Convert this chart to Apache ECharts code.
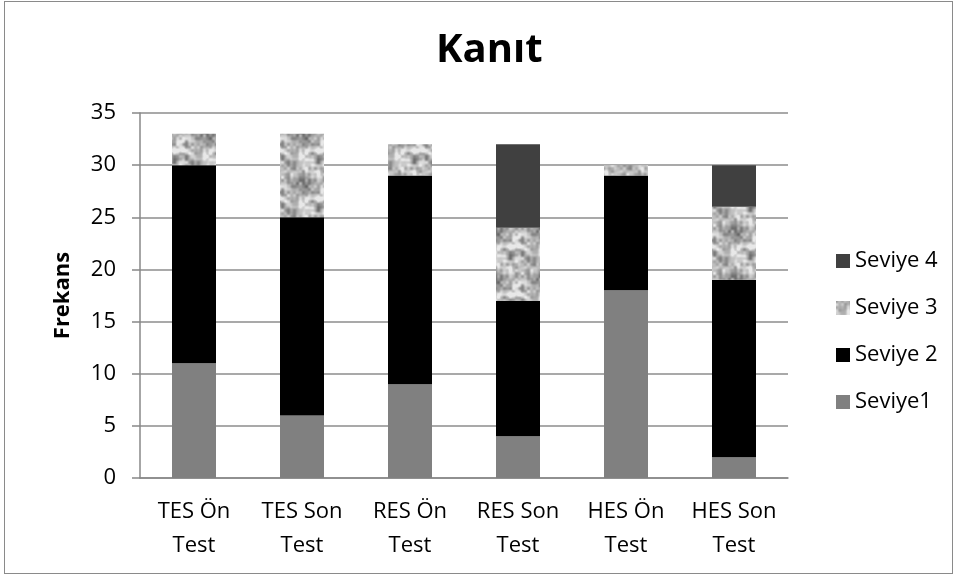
<!DOCTYPE html>
<html>
<head>
<meta charset="utf-8">
<script src="https://cdn.jsdelivr.net/npm/echarts@6/dist/echarts.min.js"></script>
<style>
  html, body { margin: 0; padding: 0; background: #fff; }
  #frame { position: absolute; left: 4px; top: 1px; width: 947px; height: 571px; border: 1.5px solid #8a8a8a; }
  #chart { position: absolute; left: 0; top: 0; width: 957px; height: 578px; }
</style>
</head>
<body>
<div id="frame"></div>
<div id="chart"></div>
<script>
const categories = ['TES Ön\nTest', 'TES Son\nTest', 'RES Ön\nTest', 'RES Son\nTest', 'HES Ön\nTest', 'HES Son\nTest']
const seviye1 = [11, 6, 9, 4, 18, 2]
const seviye2 = [19, 19, 20, 13, 11, 17]
const seviye3 = [3, 8, 3, 7, 1, 7]
const seviye4 = [0, 0, 0, 8, 0, 4]
const yTicks = { min: 0, max: 35, interval: 5 }

// mottled grey texture for "Seviye 3" (tileable value noise, style only)
function makeTexture() {
  const S = 48
  const c = document.createElement('canvas')
  c.width = S; c.height = S
  const ctx = c.getContext('2d')
  const img = ctx.createImageData(S, S)
  const hash = (i, j) => {
    const v = Math.sin(i * 127.1 + j * 311.7) * 43758.5453
    return v - Math.floor(v)
  }
  const noise = (x, y, n) => {
    const cell = S / n
    const gx = x / cell, gy = y / cell
    const i0 = Math.floor(gx), j0 = Math.floor(gy)
    const fx = gx - i0, fy = gy - j0
    const sx = fx * fx * (3 - 2 * fx), sy = fy * fy * (3 - 2 * fy)
    const h = (i, j) => hash(((i % n) + n) % n + n * 7, ((j % n) + n) % n + n * 3)
    const a = h(i0, j0), b = h(i0 + 1, j0), cc = h(i0, j0 + 1), d = h(i0 + 1, j0 + 1)
    return (a * (1 - sx) + b * sx) * (1 - sy) + (cc * (1 - sx) + d * sx) * sy
  }
  for (let y = 0; y < S; y++) {
    for (let x = 0; x < S; x++) {
      const v = 0.6 * noise(x, y, 8) + 0.4 * noise(x, y, 16)
      const g = Math.max(70, Math.min(232, 95 + v * 175))
      const k = (y * S + x) * 4
      img.data[k] = g; img.data[k + 1] = g; img.data[k + 2] = g; img.data[k + 3] = 255
    }
  }
  ctx.putImageData(img, 0, 0)
  return c
}
const texture = makeTexture()

const font = 'Open Sans, Liberation Sans, sans-serif'
const chart = echarts.init(document.getElementById('chart'), undefined, { renderer: 'canvas' })

const bar = (name, data, color) => ({
  name, type: 'bar', stack: 'total', data, barWidth: 44,
  itemStyle: { color },
})

chart.setOption({
  animation: false,
  textStyle: { fontFamily: font },
  title: {
    text: 'Kanıt', left: 431, top: 26,
    textStyle: { fontFamily: font, fontSize: 40, fontWeight: 'bold', color: '#000' },
  },
  grid: { left: 140, right: 169, top: 113, bottom: 100, containLabel: false },
  legend: {
    orient: 'vertical', left: 831, top: 245, itemGap: 25,
    itemWidth: 14, itemHeight: 14, icon: 'rect',
    data: ['Seviye 4', 'Seviye 3', 'Seviye 2', 'Seviye1'],
    textStyle: { fontFamily: font, fontSize: 22, color: '#000' },
  },
  xAxis: {
    type: 'category', data: categories,
    axisLine: { lineStyle: { color: '#888', width: 1.5 } },
    axisTick: { length: 7, lineStyle: { color: '#888', width: 1.5 } },
    axisLabel: { color: '#000', fontSize: 22, lineHeight: 34, margin: 17, interval: 0 },
  },
  yAxis: {
    type: 'value', ...yTicks,
    name: 'Frekans', nameLocation: 'middle', nameGap: 66, nameRotate: 90,
    nameTextStyle: { fontFamily: font, fontSize: 22, fontWeight: 'bold', color: '#000' },
    axisLine: { show: true, lineStyle: { color: '#888', width: 1.5 } },
    axisTick: { show: true, length: 8, lineStyle: { color: '#888', width: 1.5 } },
    axisLabel: { color: '#000', fontSize: 22, margin: 24 },
    splitLine: { lineStyle: { color: '#8c8c8c', width: 1.5 } },
  },
  series: [
    bar('Seviye1', seviye1, '#808080'),
    bar('Seviye 2', seviye2, '#000000'),
    bar('Seviye 3', seviye3, { image: texture, repeat: 'repeat' }),
    bar('Seviye 4', seviye4, '#404040'),
  ],
})
</script>
</body>
</html>
